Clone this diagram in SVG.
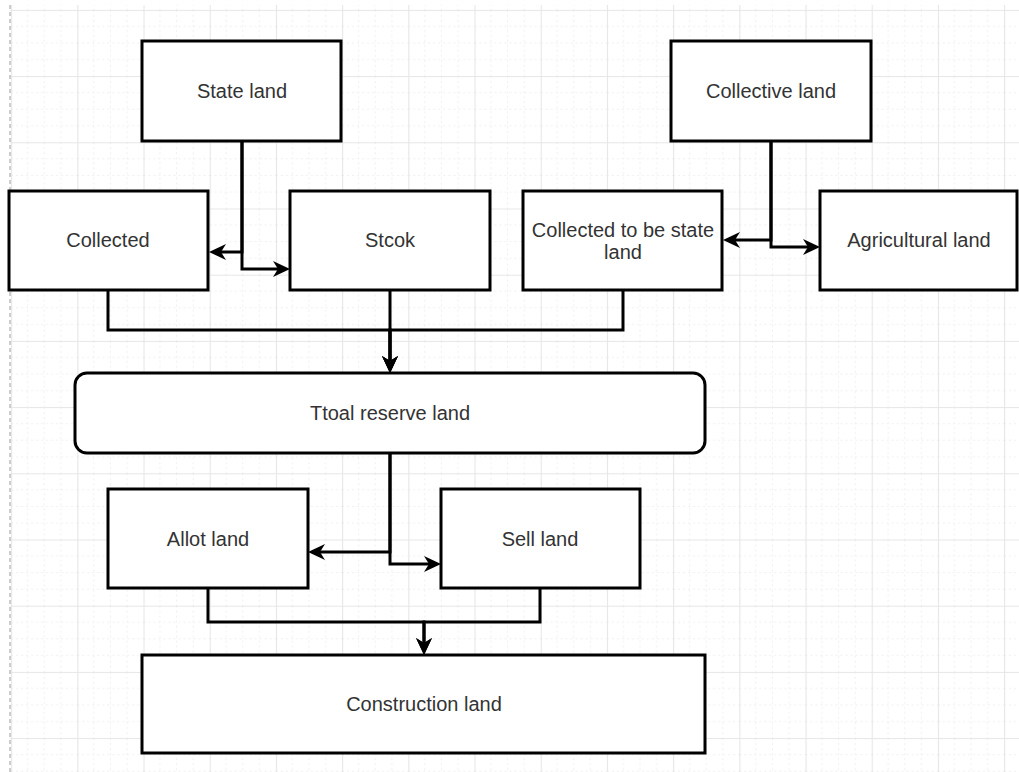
<svg xmlns="http://www.w3.org/2000/svg" width="1019" height="772" viewBox="0 0 1019 772">
<style>
.box{fill:#ffffff;stroke:#000000;stroke-width:3}
.lbl{font-family:"Liberation Sans",Arial,Helvetica,sans-serif;font-size:20px;fill:#333333;text-anchor:middle}
.edge{fill:none;stroke:#000000;stroke-width:3}
.arr{marker-end:url(#arrow)}
</style>
<defs>
<pattern id="grid" x="11.1" y="9.9" width="66.2" height="66.2" patternUnits="userSpaceOnUse">
<path d="M16.55,0V66.2M33.1,0V66.2M49.65,0V66.2M0,16.55H66.2M0,33.1H66.2M0,49.65H66.2" fill="none" stroke="#efefef" stroke-width="1" stroke-dasharray="2 3"/>
<path d="M0.5,0V66.2M0,0.5H66.2" fill="none" stroke="#e6e6e6" stroke-width="1.2"/>
</pattern>
<marker id="arrow" viewBox="-6 -9 19 18" refX="0" refY="0" markerWidth="19" markerHeight="18" markerUnits="userSpaceOnUse" orient="auto">
<path d="M12,0 L-5,-8 L0,0 L-5,8 Z" fill="#000000"/>
</marker>
</defs>
<rect x="0" y="0" width="1019" height="772" fill="#ffffff"/>
<rect x="10" y="5" width="1009" height="767" fill="url(#grid)"/>
<line x1="10" y1="5" x2="10" y2="772" stroke="#bdbdbd" stroke-width="1.5" stroke-dasharray="4 3"/>

<g id="connectors">
<path class="edge arr" d="M242,141 V252 H221"/>
<path class="edge arr" d="M242,141 V269 H278"/>
<path class="edge arr" d="M771,141 V240 H735"/>
<path class="edge arr" d="M771,141 V247 H808"/>
<path class="edge arr" d="M108,290 V330 H390 V361"/>
<path class="edge arr" d="M390,290 V361"/>
<path class="edge arr" d="M623,290 V330 H390 V361"/>
<path class="edge arr" d="M390,453 V552 H320"/>
<path class="edge arr" d="M390,453 V564 H429"/>
<path class="edge arr" d="M208,588 V622 H424 V643"/>
<path class="edge arr" d="M540,588 V622 H424 V643"/>
</g>

<g id="state-land"><rect class="box" x="142" y="41" width="199" height="100"/><text class="lbl" x="242" y="98">State land</text></g>
<g id="collective-land"><rect class="box" x="671" y="41" width="200" height="100"/><text class="lbl" x="771" y="98">Collective land</text></g>
<g id="collected"><rect class="box" x="9" y="191" width="199" height="99"/><text class="lbl" x="108" y="247">Collected</text></g>
<g id="stcok"><rect class="box" x="290" y="191" width="200" height="99"/><text class="lbl" x="390" y="247">Stcok</text></g>
<g id="collected-to-be-state-land"><rect class="box" x="523" y="191" width="199" height="99"/><text class="lbl" x="623" y="237">Collected to be state</text><text class="lbl" x="623" y="259">land</text></g>
<g id="agricultural-land"><rect class="box" x="820" y="191" width="197" height="99"/><text class="lbl" x="919" y="247">Agricultural land</text></g>
<g id="total-reserve-land"><rect class="box" x="75" y="373" width="630" height="80" rx="12" ry="12"/><text class="lbl" x="390" y="420">Ttoal reserve land</text></g>
<g id="allot-land"><rect class="box" x="108" y="489" width="200" height="99"/><text class="lbl" x="208" y="546">Allot land</text></g>
<g id="sell-land"><rect class="box" x="441" y="489" width="199" height="99"/><text class="lbl" x="540" y="546">Sell land</text></g>
<g id="construction-land"><rect class="box" x="142" y="655" width="563" height="98"/><text class="lbl" x="424" y="711">Construction land</text></g>
</svg>
